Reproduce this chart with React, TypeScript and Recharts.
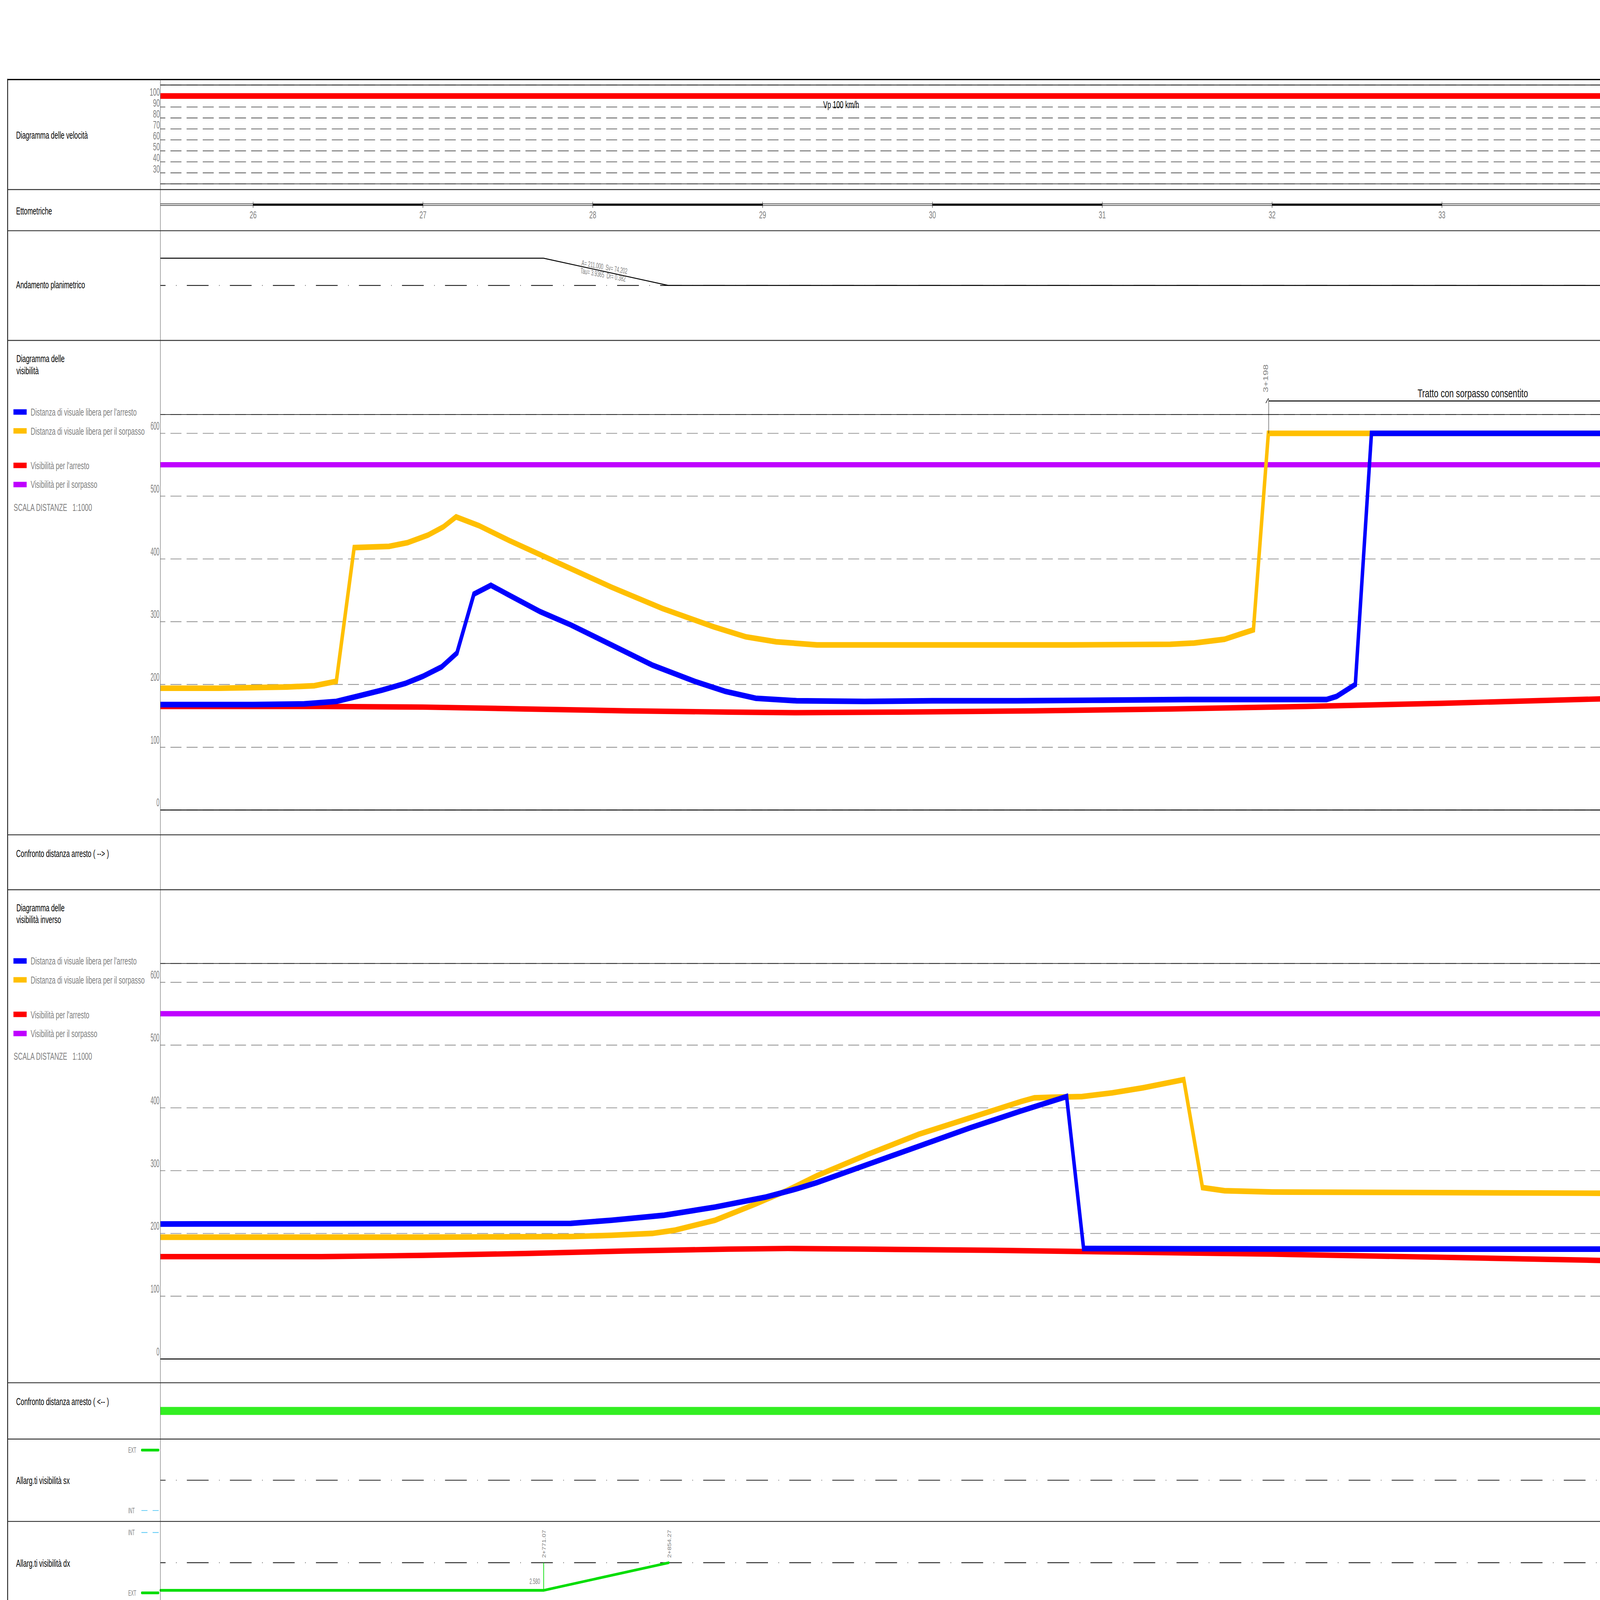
import React from 'react';
import { ComposedChart, Line, XAxis, YAxis, ReferenceLine, ReferenceArea, CartesianGrid } from 'recharts';

// ---------------- data ----------------
const CH_START = 2545.4;
const CH_END = 3393.2;
const HECTOMETERS = [26, 27, 28, 29, 30, 31, 32, 33];
const FILLED_HECTO = [26, 28, 30, 32];
const SPEED_TICKS = [100, 90, 80, 70, 60, 50, 40, 30];
const VIS_TICKS = [0, 100, 200, 300, 400, 500, 600];

const SPEED_VP: [number, number][] = [[CH_START, 100], [CH_END, 100]];

const PLANIMETRIC: [number, number][] = [[CH_START, 1], [2771, 1], [2844.5, 0], [CH_END, 0]];

const FWD_ARRESTO: [number, number][] = [
  [CH_START, 168], [2600, 168], [2630, 169], [2649, 173], [2661, 181], [2676, 191], [2690, 202],
  [2700, 213], [2711, 228], [2720, 250], [2730, 344], [2740, 358], [2751, 342], [2769, 316],
  [2787, 295], [2811, 263], [2835, 231], [2860, 205], [2878, 189], [2896, 178], [2920, 174],
  [2960, 173], [3000, 174], [3050, 174], [3100, 175], [3150, 176], [3200, 176], [3232, 176],
  [3238, 181], [3249, 200], [3258.5, 600], [CH_END, 600],
];
const FWD_SORPASSO: [number, number][] = [
  [CH_START, 194], [2580, 194], [2600, 195], [2620, 196], [2636, 198], [2649, 205], [2659.5, 418],
  [2680, 420], [2691, 426], [2703, 438], [2712, 451], [2719.5, 467], [2733, 453], [2751, 429],
  [2781, 392], [2811, 355], [2841, 321], [2871, 292], [2890, 276], [2908, 268], [2932, 263],
  [3000, 263], [3080, 263], [3140, 264], [3154, 266], [3172, 272], [3181, 280], [3189, 287],
  [3197.8, 600], [CH_END, 600],
];
const FWD_VIS_ARRESTO: [number, number][] = [
  [CH_START, 165], [2640, 165], [2700, 164], [2760, 161], [2820, 158], [2880, 156], [2920, 155],
  [2980, 156], [3060, 158], [3140, 161], [3220, 165], [3300, 170], [CH_END, 177],
];
const VIS_SORPASSO: [number, number][] = [[CH_START, 550], [CH_END, 550]];

const INV_ARRESTO: [number, number][] = [
  [CH_START, 215], [2787, 216], [2811, 221], [2842, 229], [2872, 242], [2902, 258], [2920, 271],
  [2932, 281], [2962, 310], [2992, 339], [3022, 368], [3052, 395], [3079, 418], [3089, 176],
  [3150, 175.5], [3250, 175], [CH_END, 175],
];
const INV_SORPASSO: [number, number][] = [
  [CH_START, 194], [2700, 194], [2787, 195], [2811, 197], [2835, 200], [2848, 205], [2872, 221],
  [2896, 247], [2914, 268], [2932, 292], [2962, 326], [2992, 358], [3022, 384], [3052, 410],
  [3060, 416], [3070, 417], [3088, 418], [3106, 424], [3124, 432], [3148, 445], [3159, 273],
  [3172, 268], [3200, 266], [3300, 265], [CH_END, 264],
];
const INV_VIS_ARRESTO: [number, number][] = [
  [CH_START, 163], [2640, 163], [2700, 165], [2760, 168], [2820, 172], [2880, 175], [2915, 176],
  [2960, 175], [3040, 173], [3120, 170], [3200, 167], [3300, 162], [CH_END, 157],
];

const CONFRONTO_INV: [number, number][] = [[CH_START, 1], [CH_END, 1]];
const SX_WIDENING: [number, number][] = [[CH_START, 0], [CH_END, 0]];
const DX_WIDENING: [number, number][] = [[CH_START, -2.58], [2771.07, -2.58], [2844.7, 0]];
const ETTO_RAIL_TOP: [number, number][] = [[CH_START, 74.3], [CH_END, 74.3]];
const ETTO_RAIL_BOTTOM: [number, number][] = [[CH_START, 69.7], [CH_END, 69.7]];

const VIS_SERIES = [
  { key: 'arresto', name: "Distanza di visuale libera per l'arresto", color: '#0000ff' },
  { key: 'sorpasso', name: 'Distanza di visuale libera per il sorpasso', color: '#ffbf00' },
  { key: 'visArresto', name: "Visibilità per l'arresto", color: '#ff0000' },
  { key: 'visSorpasso', name: 'Visibilità per il sorpasso', color: '#bf00ff' },
];

// ---------------- layout ----------------
const PAGE_W = 7139;
const PAGE_H = 4404;
const PLOT_L = 715.6;
const CHART_W = 7140;
const PX_PER_M = (CHART_W - PLOT_L) / (CH_END - CH_START);
const xPx = (ch: number) => PLOT_L + (ch - CH_START) * PX_PER_M;
const FONT = '"Liberation Sans", Arial, Helvetica, sans-serif';
const GRAY = '#808080';
const GREEN = '#00dd00';
const CYAN = '#55c8f5';
const DASHDOT = '97 47 2 46';

const pts = (a: [number, number][]) => a.map(([ch, v]) => ({ ch, v }));

type PanelProps = {
  top: number; height: number; domain: [number, number];
  padTop?: number; padBottom?: number;
  yTicks?: number[]; yTick?: any;
  grid?: { stroke: string; width: number };
  children?: React.ReactNode;
};

function Panel({ top, height, domain, padTop = 20, padBottom = 20, yTicks, yTick, grid, children }: PanelProps) {
  const h = height + padTop + padBottom;
  return (
    <div style={{ position: 'absolute', left: 0, top: top - padTop, width: CHART_W, height: h }}>
      <ComposedChart width={CHART_W} height={h} margin={{ top: padTop, bottom: padBottom, left: 0, right: 0 }}
        data={[{ ch: CH_START }, { ch: CH_END }]}>
        {grid && (
          <CartesianGrid vertical={false} stroke={grid.stroke} strokeWidth={grid.width}
            strokeDasharray="49 23" strokeDashoffset={27} />
        )}
        <XAxis type="number" dataKey="ch" domain={[CH_START, CH_END]} hide />
        <YAxis type="number" domain={domain} width={PLOT_L} ticks={yTicks} tick={yTick ?? false}
          axisLine={false} tickLine={false} interval={0} />
        {children}
      </ComposedChart>
    </div>
  );
}

const speedTick = (p: any) => (
  <text x={713} y={p.y - 1} textAnchor="end" fill={GRAY} fontSize={30} fontFamily={FONT}
    textLength={15 * String(p.payload.value).length} lengthAdjust="spacingAndGlyphs">{p.payload.value}</text>
);
const visTick = (p: any) => (
  <text x={711} y={p.y - 10} textAnchor="end" fill={GRAY} fontSize={32} fontFamily={FONT}
    textLength={13 * String(p.payload.value).length} lengthAdjust="spacingAndGlyphs">{p.payload.value}</text>
);

const line = (data: [number, number][], color: string, width: number, key: string) => (
  <Line key={key} data={pts(data)} dataKey="v" type="linear" stroke={color} strokeWidth={width}
    dot={false} activeDot={false} isAnimationActive={false} />
);

function VisChart({ top, arresto, sorpasso, visArresto, extraTop, children }: any) {
  const H = 1088.6;
  return (
    <Panel top={top} height={H} domain={[0, 630]} yTicks={VIS_TICKS} yTick={visTick}
      grid={{ stroke: '#8c8c8c', width: 2 }} padTop={extraTop ?? 20}>
      <ReferenceLine y={630} stroke="#000" strokeWidth={1.5} />
      <ReferenceLine y={0} stroke="#000" strokeWidth={2.5} />
      {line(VIS_SORPASSO, VIS_SERIES[3].color, 14.7, 'p')}
      {line(visArresto, VIS_SERIES[2].color, 15, 'r')}
      {line(sorpasso, VIS_SERIES[1].color, 15.5, 'o')}
      {line(arresto, VIS_SERIES[0].color, 15.5, 'b')}
      {children}
    </Panel>
  );
}

function VisLegend({ top, title }: { top: number; title: string[] }) {
  const swY = [-7.4, 44.6, 139.6, 192.3];
  const txY = [2.6, 55.3, 150.3, 201.9];
  return (
    <g fontFamily={FONT}>
      <text x={73} y={top - 144.4} fontSize={28.5} fill="#000">{title[0]}</text>
      <text x={73} y={top - 111.4} fontSize={28.5} fill="#000">{title[1]}</text>
      {VIS_SERIES.map((s, i) => (
        <g key={s.key}>
          <rect x={60} y={top + swY[i] - 7.5} width={59} height={15} fill={s.color} />
          <text x={137} y={top + txY[i]} fontSize={28.5} fill={GRAY}>{s.name}</text>
        </g>
      ))}
      <text x={61} y={top + 264.6} fontSize={28.5} fill={GRAY} style={{ whiteSpace: 'pre' }}>SCALA DISTANZE   1:1000</text>
    </g>
  );
}

function Overlay() {
  const seps = [521.7, 635, 937, 2297.8, 2449, 3806, 3961, 4187.7];
  const titles: [string, number][] = [
    ['Diagramma delle velocità', 382],
    ['Ettometriche', 590],
    ['Andamento planimetrico', 793],
    ['Confronto distanza arresto ( --> )', 2359],
    ['Confronto distanza arresto ( <-- )', 3867],
    ['Allarg.ti visibilità sx', 4085],
    ['Allarg.ti visibilità dx', 4312.7],
  ];
  const extInt: [string, number, number, boolean][] = [
    ['EXT', 3999, 3991.3, true],
    ['INT', 4165, 4157.7, false],
    ['INT', 4226, 4218.3, false],
    ['EXT', 4391.7, 4384.3, true],
  ];
  const x2771 = xPx(2771.07);
  const x2854 = xPx(2844.7);
  const x3198 = xPx(3198);
  return (
    <svg width={PAGE_W} height={PAGE_H} style={{ position: 'absolute', left: 0, top: 0, pointerEvents: 'none' }}
      fontFamily={FONT}>
      <line x1={34} x2={PAGE_W} y1={219} y2={219} stroke="#000" strokeWidth={3.5} />
      <line x1={34} x2={34} y1={217} y2={PAGE_H} stroke="#000" strokeWidth={3.5} />
      <line x1={PLOT_L} x2={PLOT_L} y1={219} y2={PAGE_H} stroke="#444" strokeWidth={1.5} />
      {seps.map((y) => <line key={y} x1={34} x2={PAGE_W} y1={y} y2={y} stroke="#333" strokeWidth={2.5} />)}
      {titles.map(([t, y]) => <text key={t} x={72} y={y} fontSize={28.5} fill="#000">{t}</text>)}
      <VisLegend top={1141.4} title={['Diagramma delle', 'visibilità']} />
      <VisLegend top={2652.4} title={['Diagramma delle', 'visibilità inverso']} />
      {extInt.map(([t, ty, ly, ext], i) => (
        <g key={i}>
          <text x={572} y={ty} fontSize={21} fill={GRAY} textLength={t === 'EXT' ? 36 : 29} lengthAdjust="spacingAndGlyphs">{t}</text>
          {ext
            ? <line x1={633} x2={707} y1={ly} y2={ly} stroke={GREEN} strokeWidth={7.5} strokeLinecap="round" />
            : <line x1={631} x2={708} y1={ly} y2={ly} stroke={CYAN} strokeWidth={2} strokeDasharray="27 23" />}
        </g>
      ))}
      <text x={3753} y={298} fontSize={28.5} fill="#000" textAnchor="middle">Vp 100 km/h</text>
      <text transform="translate(2594,730.5) rotate(6.6)" fontSize={22} fill={GRAY} textLength={206}
        lengthAdjust="spacingAndGlyphs" style={{ whiteSpace: 'pre' }}>A= 211.000  Sv= 74.202</text>
      <text transform="translate(2589,752) rotate(6.6)" fontSize={22} fill={GRAY} textLength={203}
        lengthAdjust="spacingAndGlyphs" style={{ whiteSpace: 'pre' }}>Tau= 3.9365  Dr= 0.382</text>
      <text transform={`translate(${x3198 - 4},1080) rotate(-90)`} fontSize={28} fill={GRAY} textLength={77}
        lengthAdjust="spacingAndGlyphs">3+198</text>
      <text x={6325} y={1093} fontSize={32} fill="#111" textLength={493} lengthAdjust="spacingAndGlyphs">Tratto con sorpasso consentito</text>
      <text transform={`translate(${x2771 + 10},4288) rotate(-90)`} fontSize={22} fill={GRAY} textLength={77}
        lengthAdjust="spacingAndGlyphs">2+771.07</text>
      <text transform={`translate(${x2854 + 11},4288) rotate(-90)`} fontSize={22} fill={GRAY} textLength={77}
        lengthAdjust="spacingAndGlyphs">2+854.27</text>
      <text x={x2771 - 16} y={4360} fontSize={21} fill={GRAY} textAnchor="end" textLength={47}
        lengthAdjust="spacingAndGlyphs">2.580</text>
    </svg>
  );
}

function Drawing() {
  return (
    <div style={{ position: 'relative', width: PAGE_W, height: PAGE_H, background: '#fff', fontFamily: FONT }}>
      {/* Diagramma delle velocità */}
      <Panel top={234} height={272} domain={[20, 110]} yTicks={SPEED_TICKS} yTick={speedTick}
        grid={{ stroke: '#555', width: 2 }}>
        <ReferenceLine y={110} stroke="#333" strokeWidth={2.5} />
        <ReferenceLine y={20} stroke="#333" strokeWidth={2} />
        {line(SPEED_VP, '#ff0000', 15.6, 'vp')}
      </Panel>

      {/* Ettometriche */}
      <Panel top={521.7} height={113.3} domain={[0, 113.3]}>
        {line(ETTO_RAIL_TOP, '#222', 1.5, 'rt')}
        {line(ETTO_RAIL_BOTTOM, '#222', 1.5, 'rb')}
        {FILLED_HECTO.map((h) => (
          <ReferenceArea key={h} x1={h * 100} x2={h * 100 + 100} y1={69} y2={75} fill="#000" fillOpacity={1} stroke="none" />
        ))}
        {HECTOMETERS.map((h) => (
          <ReferenceLine key={'t' + h} segment={[{ x: h * 100, y: 80 }, { x: h * 100, y: 63.3 }]}
            stroke="#000" strokeWidth={1.5}
            label={{ value: String(h), position: 'bottom', offset: 9, fill: GRAY, fontSize: 28, fontFamily: FONT }} />
        ))}
      </Panel>

      {/* Andamento planimetrico */}
      <Panel top={635} height={302} domain={[-2.017, 2.009]}>
        <ReferenceLine y={0} stroke="#000" strokeWidth={2} strokeDasharray={DASHDOT} strokeDashoffset={74} />
        {line(PLANIMETRIC, '#000', 2.5, 'plan')}
      </Panel>

      {/* Diagramma delle visibilità */}
      <VisChart top={1141.4} arresto={FWD_ARRESTO} sorpasso={FWD_SORPASSO} visArresto={FWD_VIS_ARRESTO} extraTop={170}>
        <ReferenceLine segment={[{ x: 3198, y: 651.6 }, { x: CH_END, y: 651.6 }]} ifOverflow="visible" stroke="#000" strokeWidth={2.5} />
        <ReferenceLine segment={[{ x: 3198, y: 655.3 }, { x: 3198, y: 600 }]} ifOverflow="visible" stroke="#000" strokeWidth={1.5} />
        <ReferenceLine segment={[{ x: 3196.3, y: 648.2 }, { x: 3197.8, y: 655.7 }]} ifOverflow="visible" stroke="#000" strokeWidth={2} />
      </VisChart>

      {/* Diagramma delle visibilità inverso */}
      <VisChart top={2652.4} arresto={INV_ARRESTO} sorpasso={INV_SORPASSO} visArresto={INV_VIS_ARRESTO} />

      {/* Confronto distanza arresto ( <-- ) */}
      <Panel top={3806} height={155} domain={[0, 2]}>
        {line(CONFRONTO_INV, '#33ee22', 22, 'conf')}
      </Panel>

      {/* Allarg.ti visibilità sx */}
      <Panel top={3961} height={226.7} domain={[-1, 1]}>
        <ReferenceLine y={0} stroke="#000" strokeWidth={2} strokeDasharray={DASHDOT} strokeDashoffset={74} />
        {line(SX_WIDENING, 'none', 7.3, 'sx')}
      </Panel>

      {/* Allarg.ti visibilità dx */}
      <Panel top={4187.7} height={226.7} domain={[-3.846, 3.846]}>
        <ReferenceLine y={0} stroke="#000" strokeWidth={2} strokeDasharray={DASHDOT} strokeDashoffset={74} />
        <ReferenceLine segment={[{ x: 2771.07, y: 0 }, { x: 2771.07, y: -2.58 }]} stroke={GREEN} strokeWidth={3} />
        <Line data={pts(DX_WIDENING)} dataKey="v" type="linear" stroke={GREEN} strokeWidth={7.3}
          strokeLinecap="round" dot={false} activeDot={false} isAnimationActive={false} />
      </Panel>

      <Overlay />
    </div>
  );
}

export default function App() {
  // The drawing is laid out at 7139 x 4404; if the window is smaller it is fitted into it.
  const vw = typeof window !== 'undefined' ? window.innerWidth : PAGE_W;
  const vh = typeof window !== 'undefined' ? window.innerHeight : PAGE_H;
  const sx = Math.min(1, vw / PAGE_W);
  const sy = Math.min(1, vh / PAGE_H);
  return (
    <div style={{ position: 'absolute', left: 0, top: 0, width: PAGE_W * sx, height: PAGE_H * sy, overflow: 'hidden', background: '#fff' }}>
      <div style={{ transform: `scale(${sx}, ${sy})`, transformOrigin: '0 0', width: PAGE_W, height: PAGE_H }}>
        <Drawing />
      </div>
    </div>
  );
}
